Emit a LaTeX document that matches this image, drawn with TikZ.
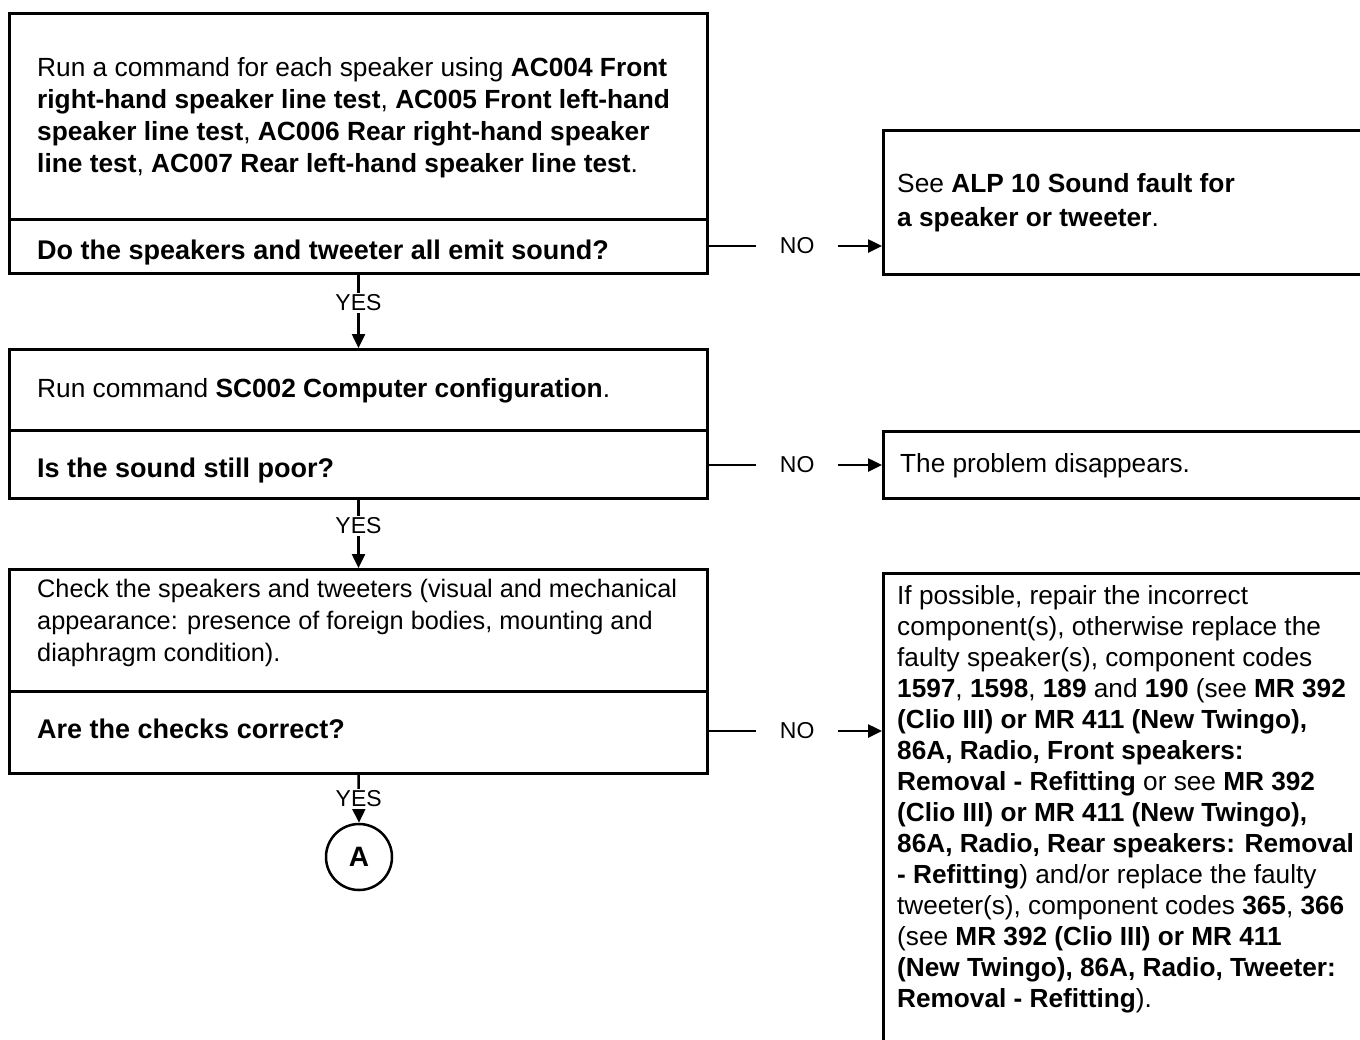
\documentclass[tikz,border=0pt]{standalone}
\usepackage{fontspec}
\setmainfont{Liberation Sans}
\usetikzlibrary{arrows.meta}
\begin{document}
\begin{tikzpicture}[x=1pt,y=-1pt,
  box/.style={draw, line width=3pt, rectangle, inner sep=0pt, anchor=north west},
  divider/.style={line width=3pt},
  ltxt/.style={anchor=west, inner sep=0pt, align=left, font=\fontsize{26.3}{32}\selectfont},
  qtxt/.style={anchor=west, inner sep=0pt, align=left, font=\bfseries\fontsize{27}{32}\selectfont},
  rtxt/.style={anchor=west, inner sep=0pt, align=left, font=\fontsize{26.2}{31}\selectfont},
  conn/.style={line width=2.5pt, -{Triangle[length=14pt,width=13pt]}},
  yeslab/.style={fill=white, inner xsep=1pt, inner ysep=2pt, font=\fontsize{23}{23}\selectfont},
  nolab/.style={fill=white, inner xsep=24pt, inner ysep=2pt, font=\fontsize{23}{23}\selectfont},
  endnode/.style={circle, draw, line width=2.5pt, minimum size=66pt, inner sep=0pt, font=\bfseries\fontsize{28}{28}\selectfont}
]
\fill[white] (0,0) rectangle (1360,1039);
\useasboundingbox (0,0) rectangle (1360,1039);

% left column boxes
\node[box, minimum width=698pt, minimum height=260pt] (b1) at (8,12) {};
\draw[divider] (b1.west |- 0,219) -- (b1.east |- 0,219);
\node[ltxt] (t1) at (37,117.5) {Run a command for each speaker using \textbf{AC004 Front}\\
\textbf{right-hand speaker line test}, \textbf{AC005 Front left-hand}\\
\textbf{speaker line test}, \textbf{AC006 Rear right-hand speaker}\\
\textbf{line test}, \textbf{AC007 Rear left-hand speaker line test}.};
\node[qtxt] (q1) at (37,253) {Do the speakers and tweeter all emit sound?};

\node[box, minimum width=698pt, minimum height=149pt] (b2) at (8,348) {};
\draw[divider] (b2.west |- 0,430) -- (b2.east |- 0,430);
\node[ltxt] (t2) at (37,391) {Run command \textbf{SC002 Computer configuration}.};
\node[qtxt] (q2) at (37,471) {Is the sound still poor?};

\node[box, minimum width=698pt, minimum height=204pt] (b3) at (8,568) {};
\draw[divider] (b3.west |- 0,691) -- (b3.east |- 0,691);
\node[ltxt, font=\fontsize{25.3}{32}\selectfont] (t3) at (37,623) {Check the speakers and tweeters (visual and mechanical\\
appearance: presence of foreign bodies, mounting and\\
diaphragm condition).};
\node[qtxt] (q3) at (37,729) {Are the checks correct?};

\node[endnode] (A) at (359,857) {A};

% right column boxes
\node[box, minimum width=500pt, minimum height=144pt] (r1) at (882,129) {};
\node[rtxt, font=\fontsize{26.3}{34}\selectfont] (s1) at (897,203) {See \textbf{ALP 10 Sound fault for}\\
\textbf{a speaker or tweeter}.};

\node[box, minimum width=500pt, minimum height=67pt] (r2) at (882,430) {};
\node[rtxt] (s2) at (900,466) {The problem disappears.};

\node[box, minimum width=500pt, minimum height=500pt] (r3) at (882,572) {};
\node[rtxt] (s3) at (897,799) {If possible, repair the incorrect\\
component(s), otherwise replace the\\
faulty speaker(s), component codes\\
\textbf{1597}, \textbf{1598}, \textbf{189} and \textbf{190} (see \textbf{MR 392}\\
\textbf{(Clio III) or MR 411 (New Twingo),}\\
\textbf{86A, Radio, Front speakers:}\\
\textbf{Removal - Refitting} or see \textbf{MR 392}\\
\textbf{(Clio III) or MR 411 (New Twingo),}\\
\textbf{86A, Radio, Rear speakers: Removal}\\
\textbf{- Refitting}) and/or replace the faulty\\
tweeter(s), component codes \textbf{365}, \textbf{366}\\
(see \textbf{MR 392 (Clio III) or MR 411}\\
\textbf{(New Twingo), 86A, Radio, Tweeter:}\\
\textbf{Removal - Refitting}).};

% connectors
\draw[conn] (b1.south) -- node[yeslab, pos=0.38] {YES} (b2.north);
\draw[conn] (b2.south) -- node[yeslab, pos=0.38] {YES} (b3.north);
\draw[conn] (b3.south) -- node[yeslab, pos=0.5] {YES} (A.north);

\draw[conn] (b1.east |- 0,246) -- node[nolab, pos=0.51] {NO} (r1.west |- 0,246);
\draw[conn] (b2.east |- 0,465) -- node[nolab, pos=0.51] {NO} (r2.west |- 0,465);
\draw[conn] (b3.east |- 0,731) -- node[nolab, pos=0.51] {NO} (r3.west |- 0,731);
\end{tikzpicture}
\end{document}
